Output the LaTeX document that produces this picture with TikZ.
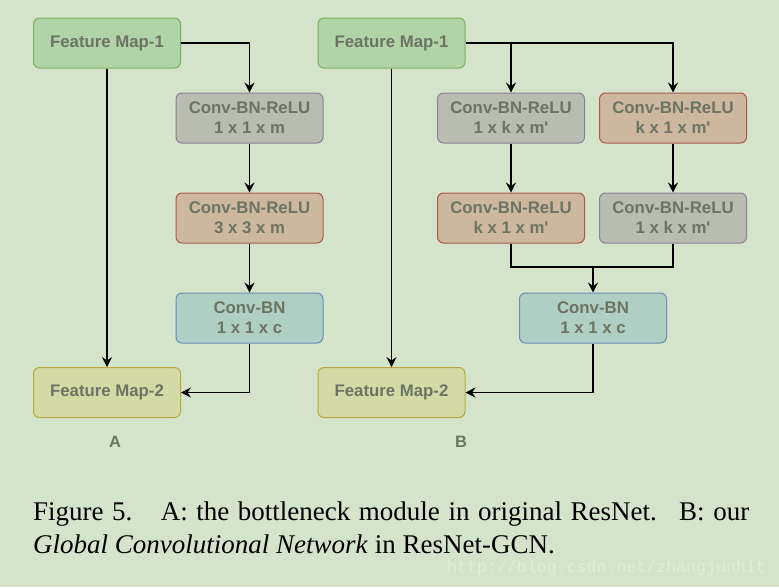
\documentclass[tikz,border=0pt]{standalone}
\usepackage{fontspec}
\setmainfont{Liberation Serif}
\newfontfamily\boxfont{Liberation Sans}
\newfontfamily\wmfont{Liberation Mono}
\usetikzlibrary{arrows.meta}
\definecolor{bgc}{HTML}{D4E4CA}
\definecolor{txc}{HTML}{6C7463}
\definecolor{gfill}{HTML}{B0D4A8}\definecolor{gdraw}{HTML}{7BB061}
\definecolor{sfill}{HTML}{B9BCB0}\definecolor{sdraw}{HTML}{8E7E98}
\definecolor{ofill}{HTML}{CDB79E}\definecolor{odraw}{HTML}{A95A4E}
\definecolor{bfill}{HTML}{B0CFC4}\definecolor{bdraw}{HTML}{6A8DB5}
\definecolor{yfill}{HTML}{D4DAA6}\definecolor{ydraw}{HTML}{B8A744}
\definecolor{wmc}{HTML}{E2ECDC}
\tikzset{
  blk/.style={rounded corners=6pt, line width=1pt, minimum width=147pt, minimum height=50pt,
    inner sep=0pt, align=center, text=txc, font=\boxfont\bfseries\fontsize{16.8}{20}\selectfont},
  fmap/.style={blk, fill=gfill, draw=gdraw},
  fmapb/.style={blk, fill=yfill, draw=ydraw},
  grayb/.style={blk, fill=sfill, draw=sdraw},
  orab/.style={blk, fill=ofill, draw=odraw},
  blueb/.style={blk, fill=bfill, draw=bdraw},
  conn/.style={line width=1.1pt, -{Stealth[length=10pt,width=10pt,inset=3.5pt]}},
  plain/.style={line width=1.1pt},
  lbl/.style={text=txc, font=\boxfont\bfseries\fontsize{16.5}{20}\selectfont}
}
\begin{document}
\begin{tikzpicture}[x=1pt,y=-1pt]
\fill[bgc] (0,0) rectangle (779,587);
\useasboundingbox (0,0) rectangle (779,587);
% A
\node[fmap] (a1) at (107,43) {Feature Map-1};
\node[grayb] (a2) at (249.5,118) {Conv-BN-ReLU\\1 x 1 x m};
\node[orab] (a3) at (249.5,218) {Conv-BN-ReLU\\3 x 3 x m};
\node[blueb] (a4) at (249.5,318) {Conv-BN\\1 x 1 x c};
\node[fmapb] (a5) at (107,392.5) {Feature Map-2};
\node[lbl] (la) at (115,442) {A};
\draw[conn] (a1.east) -| (a2.north);
\draw[conn] (a2) -- (a3);
\draw[conn] (a3) -- (a4);
\draw[conn] (a4.south) |- (a5.east);
\draw[conn] (a1) -- (a5);
% B
\node[fmap] (b1) at (391.5,43) {Feature Map-1};
\node[grayb] (b2) at (511,118) {Conv-BN-ReLU\\1 x k x m'};
\node[orab] (b3) at (673,118) {Conv-BN-ReLU\\k x 1 x m'};
\node[orab] (b4) at (511,218) {Conv-BN-ReLU\\k x 1 x m'};
\node[grayb] (b5) at (673,218) {Conv-BN-ReLU\\1 x k x m'};
\node[blueb] (b6) at (593,318) {Conv-BN\\1 x 1 x c};
\node[fmapb] (b7) at (391.5,392.5) {Feature Map-2};
\node[lbl] (lb) at (461,442) {B};
\coordinate (jn) at (593,267);
\draw[conn] (b1.east) -| (b2.north);
\draw[conn] (b1.east) -| (b3.north);
\draw[conn] (b2) -- (b4);
\draw[conn] (b3) -- (b5);
\draw[plain] (b4.south) |- (jn);
\draw[plain] (b5.south) |- (jn);
\draw[conn] (jn) -- (b6.north);
\draw[conn] (b6.south) |- (b7.east);
\draw[conn] (b1) -- (b7);
% caption
\node[anchor=base west, inner sep=0pt, font=\fontsize{27}{33}\selectfont] (cap1) at (33,520)
  {\makebox[716pt][s]{Figure 5.\hspace{14pt} A: the bottleneck module in original ResNet.\hspace{8pt} B: our}};
\node[anchor=base west, inner sep=0pt, font=\fontsize{27}{33}\selectfont] (cap2) at (33,553)
  {\textit{Global Convolutional Network} in ResNet-GCN.};
\node[anchor=base west, inner sep=0pt, text=wmc, font=\wmfont\fontsize{16.6}{20}\selectfont] (wm) at (447,572.5)
  {http://blog.csdn.net/zhangjunhit};
\end{tikzpicture}
\end{document}
